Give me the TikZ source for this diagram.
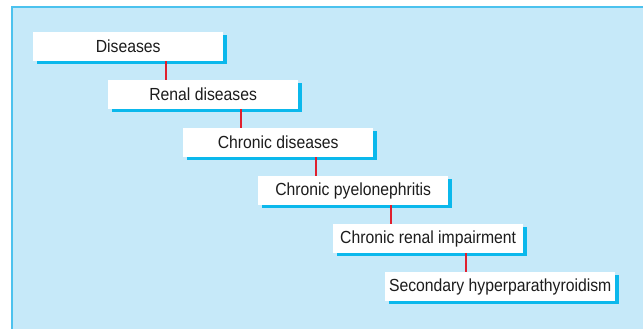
\documentclass[tikz,border=0pt]{standalone}
\usepackage{fontspec}
\setmainfont{Liberation Sans}[FakeStretch=0.9]
\usetikzlibrary{shadows}

\definecolor{panelblue}{HTML}{C6E9F9}
\definecolor{edgeblue}{HTML}{4CC2EE}
\definecolor{shadowblue}{HTML}{0BB8EC}
\definecolor{linkred}{HTML}{E0202E}
\definecolor{textgray}{HTML}{1C1C1C}

\begin{document}
\begin{tikzpicture}[x=1pt,y=-1pt,
  level/.style={fill=white, anchor=north west, inner sep=0pt,
    minimum width=190pt, minimum height=29pt,
    font=\fontsize{17.5}{20}\selectfont, text=textgray,
    drop shadow={shadow xshift=3.5pt, shadow yshift=-3pt, fill=shadowblue, opacity=1}},
  link/.style={draw=linkred, line width=1.3pt}]

\useasboundingbox (0,0) rectangle (643,329);

% panel
\fill [panelblue] (11,6) rectangle (650,335);
\draw [edgeblue, line width=2.2pt] (12,335)--(12,7)--(650,7);

\node [level] (dis) at (33,32) {Diseases};
\node [level] (ren) at (108,80) {Renal diseases};
\node [level] (chr) at (183,128) {Chronic diseases};
\node [level] (pye) at (258,176) {Chronic pyelonephritis};
\node [level] (imp) at (333,224) {Chronic renal impairment};
\node [level, minimum width=230pt] (hyp) at (385,272) {Secondary hyperparathyroidism};

\draw [link] ([xshift=133pt]dis.south west) -- ([xshift=133pt]dis.south west |- ren.north);
\draw [link] ([xshift=133pt]ren.south west) -- ([xshift=133pt]ren.south west |- chr.north);
\draw [link] ([xshift=133pt]chr.south west) -- ([xshift=133pt]chr.south west |- pye.north);
\draw [link] ([xshift=133pt]pye.south west) -- ([xshift=133pt]pye.south west |- imp.north);
\draw [link] ([xshift=133pt]imp.south west) -- ([xshift=133pt]imp.south west |- hyp.north);

\end{tikzpicture}
\end{document}
